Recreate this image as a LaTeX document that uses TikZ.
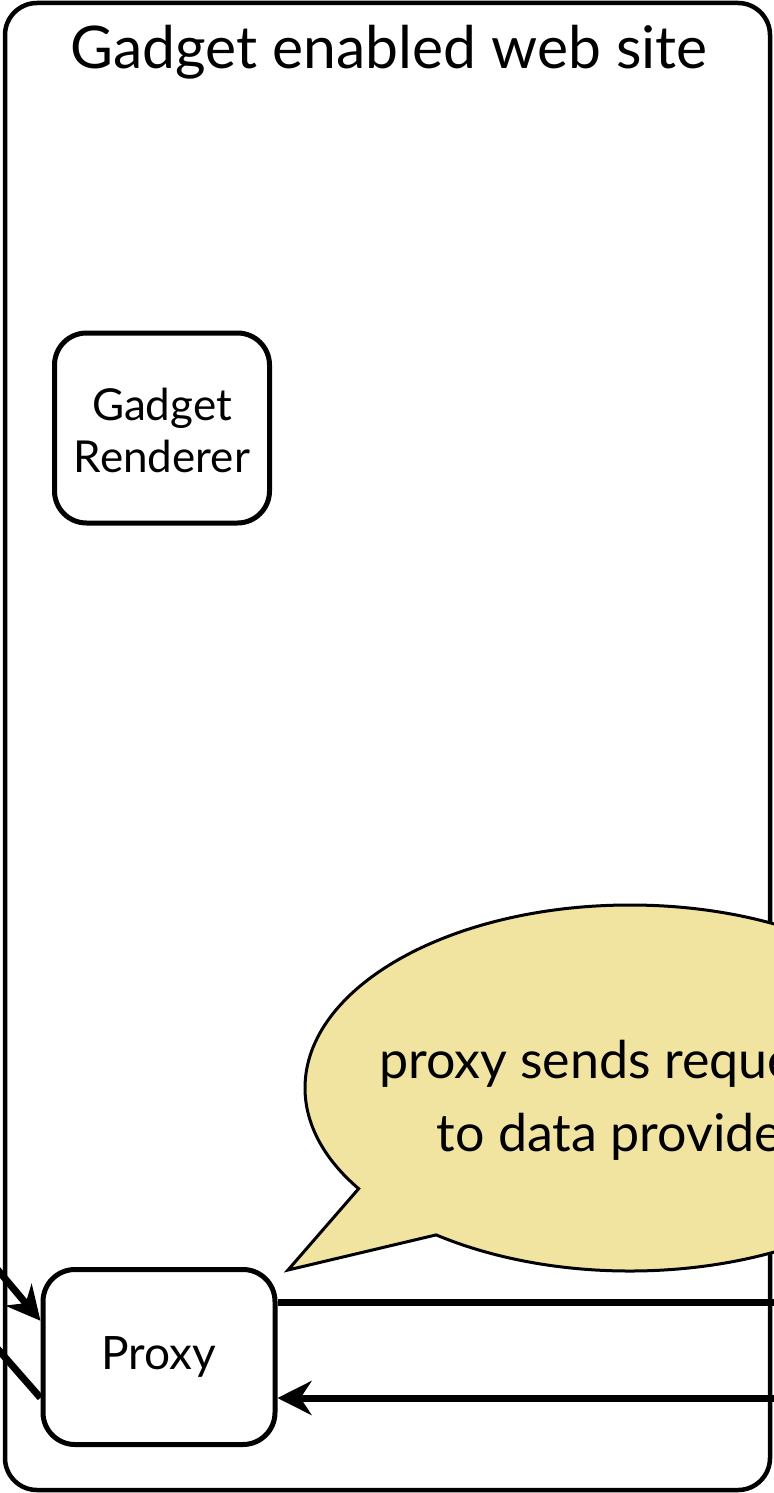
\documentclass[tikz,border=0pt]{standalone}
\usepackage{fontspec}
\setmainfont{Lato}
\usetikzlibrary{arrows.meta,shapes.callouts}
\definecolor{notefill}{RGB}{241,228,161}

\begin{document}
\begin{tikzpicture}[x=0.5pt,y=-0.5pt,
		site/.style={line width=2.25pt,rounded corners=16pt},
		comp/.style={draw,line width=2.5pt,rounded corners=16pt,align=center,font=\fontsize{22}{26}\selectfont},
		link/.style={line width=3.5pt},
		tip/.style={-{Stealth[length=17pt,width=17pt,inset=5.5pt]}},
		note/.style={ellipse callout,draw,line width=1.5pt,fill=notefill,inner sep=0pt}]
		\useasboundingbox (0,0) rectangle (774,1493);
		\clip (0,0) rectangle (774,1493);
		
		% web site frame
		\draw[site] (5,3) rectangle (770,1490);
		\node (title) at (389,52) {\fontsize{29.4}{34}\selectfont Gadget enabled web site};
		
		\node[comp,minimum width=107.5pt,minimum height=95pt] (renderer) at (162,428) {\strut Gadget\\Renderer};
		\node[comp,minimum width=116pt,minimum height=87.5pt] (proxy) at (159,1357) {\raisebox{-3pt}{\fontsize{23}{26}\selectfont Proxy}};
		
		% speech bubble
		\node[note,minimum width=325pt,minimum height=183pt,callout absolute pointer={(288,1270)},callout pointer arc=20] (bubble) at (630,1088) {};
		\node[align=center,font=\fontsize{26}{36.5}\selectfont] (bubbletext) at (619,1100) {proxy sends requests\\to data provider};
		
		\coordinate (dpOut) at (820,1302);
		\coordinate (dpIn) at (820,1398);
		\coordinate (clientIn) at (-40,1225);
		\coordinate (clientOut) at (-40,1306);
		\draw[link] (proxy.east |- dpOut) -- (dpOut);
		\draw[link,tip] (dpIn) -- (proxy.east |- dpIn);
		\draw[link,tip] (clientIn) -- (proxy.163);
		\draw[link] (proxy.199) -- (clientOut);
	\end{tikzpicture}
\end{document}
